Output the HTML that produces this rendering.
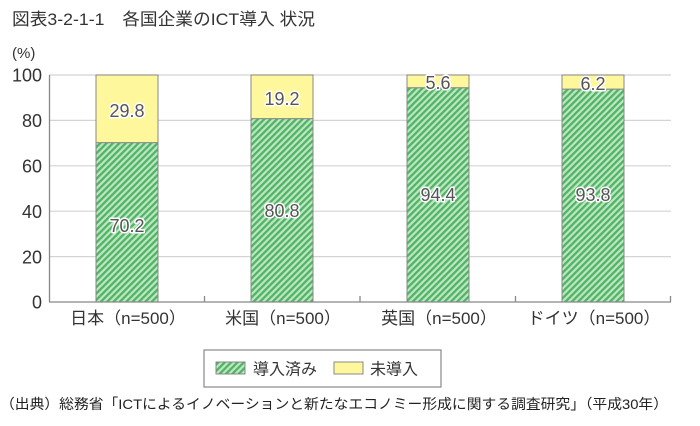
<!DOCTYPE html>
<html><head><meta charset="utf-8"><style>
html,body{margin:0;padding:0;background:#fff;}
svg{display:block;}
text{font-family:"Liberation Sans","Noto Sans CJK JP",sans-serif;}
</style></head><body>
<svg width="700" height="426" viewBox="0 0 700 426" xmlns="http://www.w3.org/2000/svg">
<defs>
<pattern id="hatch" patternUnits="userSpaceOnUse" width="4.5" height="4.5" patternTransform="rotate(45)">
<rect width="4.5" height="4.5" fill="#bfe6c4"/>
<rect width="2.3" height="4.5" fill="#4fb463"/>
</pattern>
</defs>
<text x="12" y="25" font-size="17" fill="#333" textLength="303" lengthAdjust="spacingAndGlyphs">図表3-2-1-1　各国企業のICT導入 状況</text>
<text x="12" y="58" font-size="15" fill="#333">(%)</text>
<g stroke="#d4d4d4" stroke-width="1.2">
<line x1="49" y1="75" x2="671" y2="75"/>
<line x1="49" y1="120.4" x2="671" y2="120.4"/>
<line x1="49" y1="165.8" x2="671" y2="165.8"/>
<line x1="49" y1="211.2" x2="671" y2="211.2"/>
<line x1="49" y1="256.6" x2="671" y2="256.6"/>
</g>
<g font-size="18" fill="#333" text-anchor="end">
<text x="42" y="81.5">100</text>
<text x="42" y="127">80</text>
<text x="42" y="172.5">60</text>
<text x="42" y="218">40</text>
<text x="42" y="263.5">20</text>
<text x="42" y="308.5">0</text>
</g>
<g stroke="#888" stroke-width="1">
<rect x="96" y="142.6" width="62" height="159.4" fill="url(#hatch)"/>
<rect x="96" y="75" width="62" height="67.6" fill="#fff79c"/>
<rect x="251" y="118.6" width="62" height="183.4" fill="url(#hatch)"/>
<rect x="251" y="75" width="62" height="43.6" fill="#fff79c"/>
<rect x="407" y="87.7" width="62" height="214.3" fill="url(#hatch)"/>
<rect x="407" y="75" width="62" height="12.7" fill="#fff79c"/>
<rect x="562" y="89.1" width="62" height="212.9" fill="url(#hatch)"/>
<rect x="562" y="75" width="62" height="14.1" fill="#fff79c"/>
</g>
<g stroke="#888" stroke-width="1.3">
<line x1="49.5" y1="75" x2="49.5" y2="302"/>
<line x1="49" y1="302" x2="671" y2="302"/>
<line x1="204.5" y1="296" x2="204.5" y2="302"/>
<line x1="360" y1="296" x2="360" y2="302"/>
<line x1="515.5" y1="296" x2="515.5" y2="302"/>
<line x1="670.5" y1="296" x2="670.5" y2="302"/>
</g>
<g font-size="18" fill="#555" text-anchor="middle" stroke="#fff" stroke-width="3" paint-order="stroke" stroke-linejoin="round">
<text x="127" y="117">29.8</text>
<text x="127" y="232">70.2</text>
<text x="282" y="105">19.2</text>
<text x="282" y="217">80.8</text>
<text x="438" y="89">5.6</text>
<text x="438" y="201">94.4</text>
<text x="593" y="90">6.2</text>
<text x="593" y="201">93.8</text>
</g>
<g font-size="17" fill="#333" text-anchor="middle">
<text x="128" y="324">日本（n=500）</text>
<text x="283" y="324">米国（n=500）</text>
<text x="439" y="324">英国（n=500）</text>
<text x="594" y="324">ドイツ（n=500）</text>
</g>
<rect x="204" y="350" width="237" height="37" fill="#fff" stroke="#888" stroke-width="1.2"/>
<rect x="216" y="362" width="29" height="12" fill="url(#hatch)" stroke="#888" stroke-width="1"/>
<text x="253" y="374.5" font-size="16" fill="#333">導入済み</text>
<rect x="334" y="362" width="29" height="12" fill="#fff79c" stroke="#888" stroke-width="1"/>
<text x="370" y="374.5" font-size="16" fill="#333">未導入</text>
<text x="0" y="409" font-size="14" fill="#222" textLength="668" lengthAdjust="spacingAndGlyphs">（出典）総務省「ICTによるイノベーションと新たなエコノミー形成に関する調査研究」（平成30年）</text>
</svg>
</body></html>
